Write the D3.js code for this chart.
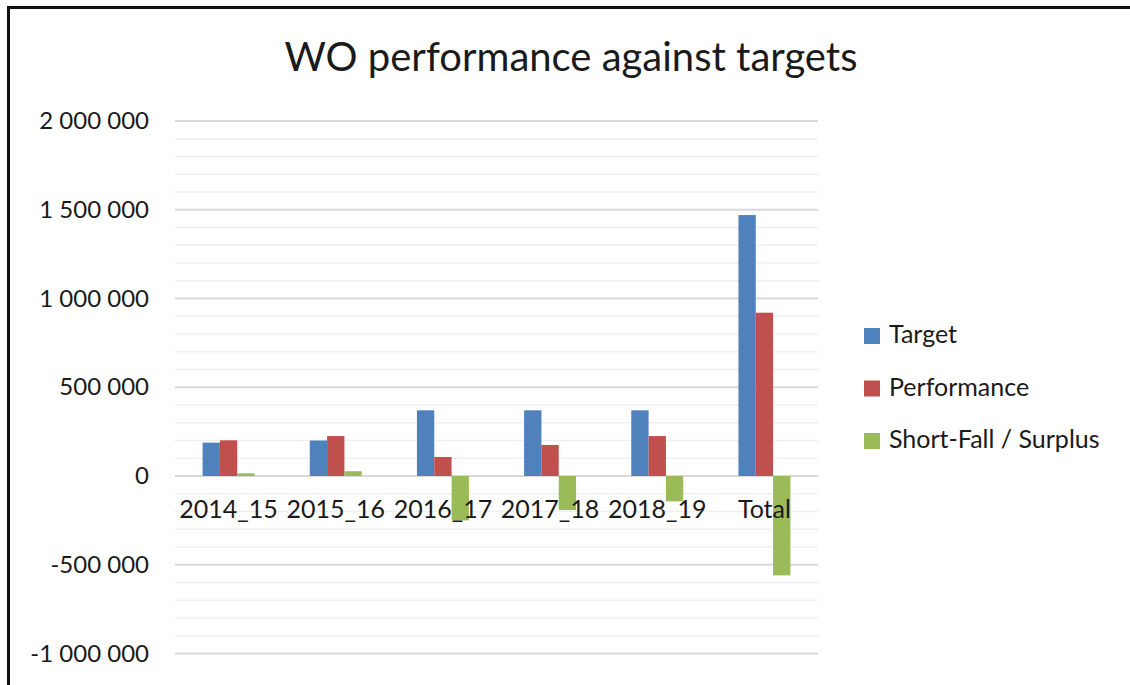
<!DOCTYPE html>
<html lang="en">
<head>
  <meta charset="UTF-8">
  <title>WO performance against targets</title>
  <style>
    body { margin: 0; background: #fff; overflow: hidden; }
    svg { display: block; }
    text { font-family: Lato, "Open Sans", sans-serif; fill: #1a1a1a; }
    .grid-minor { stroke: #efefef; stroke-width: 1.5px; }
    .grid-major { stroke: #d9d9d9; stroke-width: 2px; }
  </style>
</head>
<body>
  <svg width="1130" height="685"></svg>
  <script src="https://d3js.org/d3.v7.min.js"></script>
  <script>
    const categories = ["2014_15", "2015_16", "2016_17", "2017_18", "2018_19", "Total"];
    const seriesNames = ["Target", "Performance", "Short-Fall / Surplus"];
    const target      = [188000, 200000, 370000, 370000, 370000, 1470000];
    const performance = [201000, 225000, 107000, 175000, 225000, 920000];
    const shortfall   = [15000, 27000, -250000, -192000, -143000, -560000];
    const colors = ["#4f81bd", "#c0504d", "#9bbb59"];
    const yTicks = [-1000000, -500000, 0, 500000, 1000000, 1500000, 2000000];

    const svg = d3.select("svg");

    // frame (only top and left edges show in the picture)
    svg.append("rect")
      .attr("x", 8.5).attr("y", 7.5)
      .attr("width", 1140).attr("height", 700)
      .attr("fill", "none").attr("stroke", "#111").attr("stroke-width", 3);

    svg.append("text")
      .attr("x", 571).attr("y", 71)
      .attr("text-anchor", "middle")
      .style("font-size", "40px")
      .text("WO performance against targets");

    const plot = { left: 175, right: 818, top: 121, bottom: 653.5 };

    const y = d3.scaleLinear()
      .domain([-1000000, 2000000])
      .range([plot.bottom, plot.top]);

    const x0 = d3.scaleBand()
      .domain(categories)
      .range([plot.left, plot.right])
      .paddingInner(0.515)
      .paddingOuter(0.2575);

    const x1 = d3.scaleBand()
      .domain(seriesNames)
      .range([0, x0.bandwidth()]);

    // gridlines: minor every 100 000, major every 500 000
    const minor = d3.range(-1000000, 2000001, 100000).filter(v => v % 500000 !== 0);
    svg.append("g").selectAll("line")
      .data(minor).join("line")
      .attr("class", "grid-minor")
      .attr("x1", plot.left).attr("x2", plot.right)
      .attr("y1", d => y(d)).attr("y2", d => y(d));

    svg.append("g").selectAll("line")
      .data(yTicks).join("line")
      .attr("class", "grid-major")
      .attr("x1", plot.left).attr("x2", plot.right)
      .attr("y1", d => y(d)).attr("y2", d => y(d));

    // y axis labels, space as thousands separator, plain hyphen for minus
    const fmt = v => d3.format(",")(v).replace(/,/g, " ").replace("\u2212", "-");
    const yAxis = d3.axisLeft(y).tickValues(yTicks).tickSize(0).tickPadding(0).tickFormat(fmt);
    const ya = svg.append("g").attr("transform", "translate(149,0)").call(yAxis);
    ya.select(".domain").remove();
    ya.selectAll("text").style("font-size", "24px").attr("fill", "#1a1a1a");

    // bars
    const rows = categories.map((c, i) => ({ cat: c, vals: [target[i], performance[i], shortfall[i]] }));
    const groups = svg.append("g").selectAll("g")
      .data(rows).join("g")
      .attr("transform", d => `translate(${x0(d.cat)},0)`);

    groups.selectAll("rect")
      .data(d => d.vals.map((v, j) => ({ name: seriesNames[j], v, j })))
      .join("rect")
      .attr("x", d => x1(d.name))
      .attr("width", x1.bandwidth())
      .attr("y", d => y(Math.max(0, d.v)))
      .attr("height", d => Math.abs(y(d.v) - y(0)))
      .attr("fill", d => colors[d.j]);

    // category labels (sit just under the zero line, over the bars)
    const xAxis = d3.axisBottom(x0).tickSize(0).tickPadding(0);
    const xa = svg.append("g").attr("transform", `translate(0,${y(0) + 24})`).call(xAxis);
    xa.select(".domain").remove();
    xa.selectAll("text").style("font-size", "25px").attr("fill", "#1a1a1a");

    // legend
    const legend = svg.append("g").selectAll("g")
      .data(seriesNames).join("g")
      .attr("transform", (d, i) => `translate(864,${328 + i * 52.5})`);
    legend.append("rect")
      .attr("width", 16).attr("height", 16)
      .attr("fill", (d, i) => colors[i]);
    legend.append("text")
      .attr("x", 25).attr("y", 15)
      .style("font-size", "25px")
      .text(d => d);
  </script>
</body>
</html>
